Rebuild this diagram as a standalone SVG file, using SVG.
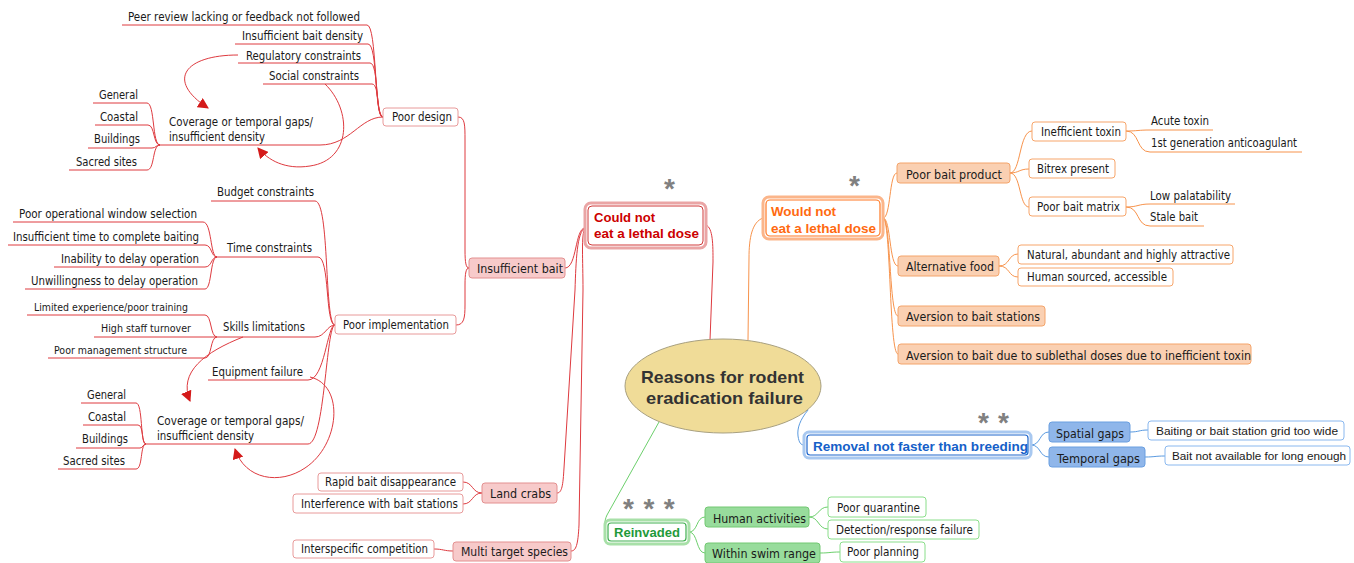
<svg xmlns="http://www.w3.org/2000/svg" width="1354" height="563" viewBox="0 0 1354 563">
<style>
.t{font-family:"DejaVu Sans","Liberation Sans",sans-serif;font-size:12px;fill:#1a1a1a;dominant-baseline:central}
.s{font-size:11px}
.m{font-size:13px}
.la{font-family:"Liberation Sans",Arial,sans-serif;font-size:11.5px}
.b{font-family:"Liberation Sans",Arial,sans-serif;font-weight:bold;font-size:13px}
.ln{fill:none;stroke-width:1}
.r{stroke:#de3a3f}
.o{stroke:#f7934c}
.bl{stroke:#5a9ae0}
.g{stroke:#6ccf6c}
.pw{fill:#fff;stroke:#e89a9a}
.pf{fill:#f7caca;stroke:#e39090}
.ow{fill:#fff;stroke:#f7a56a}
.of{fill:#fad0b2;stroke:#f4a46a}
.bw{fill:#fff;stroke:#8ab8ef}
.bf{fill:#8fb6ea;stroke:#6a9fe0}
.gw{fill:#fff;stroke:#8ade8a}
.gf{fill:#98dc9c;stroke:#72c872}
.star{font-family:"Liberation Sans",Arial,sans-serif;font-size:28px;font-weight:bold;fill:#808080}
</style>
<defs>
<marker id="ah" viewBox="0 0 10 10" refX="9" refY="5" markerWidth="11" markerHeight="11" markerUnits="userSpaceOnUse" orient="auto">
<path d="M0,0 L10,5 L0,10 z" fill="#d41a1a"/>
</marker>
</defs>
<rect width="1354" height="563" fill="#fff"/>

<g id="connectors">
<path class="ln r" d="M122 25 H367 C377 25,374 117,383 117"/>
<path class="ln r" d="M235 44 H368 C378 44,374 117,383 117"/>
<path class="ln r" d="M238 63 H370 C379 63,375 117,383 117"/>
<path class="ln r" d="M263 84 H372 C380 84,376 117,383 117"/>
<path class="ln r" d="M159 145 H320 C350 145,360 117,383 117"/>
<path class="ln r" d="M93 103 H147 C155 103,152 145,160 145"/>
<path class="ln r" d="M95 125 H148 C155 125,153 145,160 145"/>
<path class="ln r" d="M88 148 H152 C156 148,156 145,160 145"/>
<path class="ln r" d="M69 170 H147 C155 170,152 145,160 145"/>
<path class="ln r" d="M211 201 H315 C330 201,324 325,335 325"/>
<path class="ln r" d="M215 257 H318 C330 257,325 325,335 325"/>
<path class="ln r" d="M217 337 H315 C325 337,327 325,335 325"/>
<path class="ln r" d="M208 380 H308 C325 380,327 325,335 325"/>
<path class="ln r" d="M146 444 H308 C325 444,326 325,335 325"/>
<path class="ln r" d="M13 222 H203 C212 222,210 257,217 257"/>
<path class="ln r" d="M8 245 H205 C212 245,211 257,217 257"/>
<path class="ln r" d="M54 267 H205 C212 267,211 257,217 257"/>
<path class="ln r" d="M25 289 H205 C212 289,210 257,217 257"/>
<path class="ln r" d="M27 315 H205 C212 315,210 337,217 337"/>
<path class="ln r" d="M94 337 H217"/>
<path class="ln r" d="M48 358 H205 C212 358,210 337,217 337"/>
<path class="ln r" d="M81 403 H136 C143 403,140 444,146 444"/>
<path class="ln r" d="M83 425 H138 C144 425,141 444,146 444"/>
<path class="ln r" d="M76 448 H140 C143 448,143 444,146 444"/>
<path class="ln r" d="M58 469 H136 C143 469,140 444,146 444"/>
<path class="ln r" d="M238 55 C185 55,165 80,208 108" marker-end="url(#ah)"/>
<path class="ln r" d="M325 84 C352 110,352 160,310 166 C285 170,268 160,258 148" marker-end="url(#ah)"/>
<path class="ln r" d="M243 337 C205 352,178 372,190 401" marker-end="url(#ah)"/>
<path class="ln r" d="M310 377 C345 385,340 445,305 468 C280 485,245 480,235 449" marker-end="url(#ah)"/>
<path class="ln r" d="M458 117 C465 117,465 125,465 140 L465 250 C465 263,466 268,469 268"/>
<path class="ln r" d="M456 325 C464 325,465 318,465 305 L465 285 C465 273,466 268,469 268"/>
<path class="ln r" d="M565 268 C577 268,575 228,585 228"/>
<path class="ln r" d="M585 228 C577 232,576 260,575 290 L564 468 C563 485,562 493,557 493"/>
<path class="ln r" d="M585 228 C581 234,583 260,583 290 L579 525 C578 545,576 551,571 551"/>
<path class="ln r" d="M482 493 C472 493,473 482,463 482"/>
<path class="ln r" d="M482 493 C472 493,473 504,463 504"/>
<path class="ln r" d="M453 551 C444 551,443 549,434 549"/>
<path class="ln r" d="M706 225 C713 228,713 245,713 262 L710 340"/>
<path class="ln o" d="M763 218 C752 222,749 238,749 258 L748 340"/>
<path class="ln o" d="M883 218 C891 218,889 173,897 173"/>
<path class="ln o" d="M883 218 C891 218,889 266,898 266"/>
<path class="ln o" d="M883 218 C891 218,889 316,898 316"/>
<path class="ln o" d="M883 218 C891 218,889 354,898 354"/>
<path class="ln o" d="M1010 173 C1021 173,1019 131,1032 131"/>
<path class="ln o" d="M1010 173 C1019 173,1019 169,1029 169"/>
<path class="ln o" d="M1010 173 C1021 173,1019 207,1029 207"/>
<path class="ln o" d="M1126 131 C1138 131,1138 130,1150 130 H1213"/>
<path class="ln o" d="M1126 131 C1140 131,1136 152,1150 152 H1302"/>
<path class="ln o" d="M1126 207 C1138 207,1138 204,1150 204 H1235"/>
<path class="ln o" d="M1126 207 C1140 207,1136 226,1150 226 H1204"/>
<path class="ln o" d="M999 266 C1010 266,1008 254,1018 254"/>
<path class="ln o" d="M999 266 C1010 266,1008 277,1018 277"/>
<path class="ln bl" d="M808 410 C800 420,797 428,798 436 C799 443,801 445,804 445"/>
<path class="ln bl" d="M1031 445 C1041 445,1039 432,1049 432"/>
<path class="ln bl" d="M1031 445 C1041 445,1039 457,1049 457"/>
<path class="ln bl" d="M1130 432 C1139 432,1139 430,1148 430"/>
<path class="ln bl" d="M1145 457 C1155 457,1155 456,1165 456"/>
<path class="ln g" d="M659 422 L607 515 C604 521,604 530,606 532"/>
<path class="ln g" d="M689 532 C698 532,696 517,705 517"/>
<path class="ln g" d="M689 532 C698 532,696 553,705 553"/>
<path class="ln g" d="M809 517 C819 517,818 507,828 507"/>
<path class="ln g" d="M809 517 C819 517,818 529,828 529"/>
<path class="ln g" d="M820 553 C830 553,830 552,840 552"/>
</g>

<g id="center">
<ellipse cx="723" cy="386" rx="98" ry="47" fill="#f0dc98" stroke="#a8a080"/>
<text class="t b" style="font-size:17px;fill:#333" x="641" y="377" textLength="163" lengthAdjust="spacingAndGlyphs">Reasons for rodent</text>
<text class="t b" style="font-size:17px;fill:#333" x="646" y="398" textLength="157" lengthAdjust="spacingAndGlyphs">eradication failure</text>
</g>

<g id="could-not">
<rect x="585" y="203" width="121" height="45" rx="6" fill="#fff" stroke="#eaa5a5" stroke-width="3"/>
<rect x="588" y="206" width="115" height="39" rx="4" fill="none" stroke="#d03a3a"/>
<text class="t b" style="fill:#cc0000" x="594" y="217" textLength="61" lengthAdjust="spacingAndGlyphs">Could not</text>
<text class="t b" style="fill:#cc0000" x="594" y="233" textLength="105" lengthAdjust="spacingAndGlyphs">eat a lethal dose</text>
<text class="star" x="664" y="198">*</text>
</g>
<g id="insufficient-bait"><rect class="pf" x="469" y="258" width="96" height="20" rx="3"/><text class="t m" x="477" y="268" textLength="86" lengthAdjust="spacingAndGlyphs">Insufficient bait</text></g>
<g id="poor-design"><rect class="pw" x="383" y="108" width="75" height="18" rx="3"/><text class="t" x="392" y="117" textLength="60" lengthAdjust="spacingAndGlyphs">Poor design</text></g>
<g id="peer"><text class="t" x="128" y="17" textLength="232" lengthAdjust="spacingAndGlyphs">Peer review lacking or feedback not followed</text></g>
<g id="bait-density"><text class="t" x="242" y="36" textLength="121" lengthAdjust="spacingAndGlyphs">Insufficient bait density</text></g>
<g id="regulatory"><text class="t" x="246" y="56" textLength="115" lengthAdjust="spacingAndGlyphs">Regulatory constraints</text></g>
<g id="social"><text class="t" x="269" y="76" textLength="90" lengthAdjust="spacingAndGlyphs">Social constraints</text></g>
<g id="coverage1">
<text class="t" x="169" y="122" textLength="144" lengthAdjust="spacingAndGlyphs">Coverage or temporal gaps/</text>
<text class="t" x="169" y="137" textLength="96" lengthAdjust="spacingAndGlyphs">insufficient density</text>
</g>
<g id="general1"><text class="t" x="99" y="95" textLength="39" lengthAdjust="spacingAndGlyphs">General</text></g>
<g id="coastal1"><text class="t" x="100" y="117" textLength="38" lengthAdjust="spacingAndGlyphs">Coastal</text></g>
<g id="buildings1"><text class="t" x="94" y="139" textLength="46" lengthAdjust="spacingAndGlyphs">Buildings</text></g>
<g id="sacred1"><text class="t" x="76" y="162" textLength="61" lengthAdjust="spacingAndGlyphs">Sacred sites</text></g>

<g id="poor-implementation"><rect class="pw" x="335" y="315" width="121" height="19" rx="3"/><text class="t" x="343" y="325" textLength="106" lengthAdjust="spacingAndGlyphs">Poor implementation</text></g>
<g id="budget"><text class="t" x="217" y="192" textLength="97" lengthAdjust="spacingAndGlyphs">Budget constraints</text></g>
<g id="time"><text class="t" x="227" y="248" textLength="85" lengthAdjust="spacingAndGlyphs">Time constraints</text></g>
<g id="window"><text class="t" x="19" y="214" textLength="178" lengthAdjust="spacingAndGlyphs">Poor operational window selection</text></g>
<g id="insuff-time"><text class="t" x="13" y="237" textLength="186" lengthAdjust="spacingAndGlyphs">Insufficient time to complete baiting</text></g>
<g id="inability"><text class="t" x="61" y="259" textLength="138" lengthAdjust="spacingAndGlyphs">Inability to delay operation</text></g>
<g id="unwilling"><text class="t" x="31" y="281" textLength="167" lengthAdjust="spacingAndGlyphs">Unwillingness to delay operation</text></g>
<g id="skills"><text class="t" x="223" y="327" textLength="82" lengthAdjust="spacingAndGlyphs">Skills limitations</text></g>
<g id="limited"><text class="t s" x="34" y="307" textLength="154" lengthAdjust="spacingAndGlyphs">Limited experience/poor training</text></g>
<g id="turnover"><text class="t s" x="101" y="328" textLength="90" lengthAdjust="spacingAndGlyphs">High staff turnover</text></g>
<g id="management"><text class="t s" x="54" y="350" textLength="133" lengthAdjust="spacingAndGlyphs">Poor management structure</text></g>
<g id="equipment"><text class="t" x="212" y="372" textLength="91" lengthAdjust="spacingAndGlyphs">Equipment failure</text></g>
<g id="coverage2">
<text class="t" x="157" y="421" textLength="147" lengthAdjust="spacingAndGlyphs">Coverage or temporal gaps/</text>
<text class="t" x="157" y="436" textLength="97" lengthAdjust="spacingAndGlyphs">insufficient density</text>
</g>
<g id="general2"><text class="t" x="87" y="395" textLength="39" lengthAdjust="spacingAndGlyphs">General</text></g>
<g id="coastal2"><text class="t" x="88" y="417" textLength="38" lengthAdjust="spacingAndGlyphs">Coastal</text></g>
<g id="buildings2"><text class="t" x="82" y="439" textLength="46" lengthAdjust="spacingAndGlyphs">Buildings</text></g>
<g id="sacred2"><text class="t" x="63" y="461" textLength="62" lengthAdjust="spacingAndGlyphs">Sacred sites</text></g>

<g id="land-crabs"><rect class="pf" x="482" y="483" width="75" height="20" rx="3"/><text class="t m" x="490" y="493" textLength="61" lengthAdjust="spacingAndGlyphs">Land crabs</text></g>
<g id="rapid"><rect class="pw" x="318" y="473" width="145" height="18" rx="3"/><text class="t" x="325" y="482" textLength="131" lengthAdjust="spacingAndGlyphs">Rapid bait disappearance</text></g>
<g id="interference"><rect class="pw" x="293" y="494" width="170" height="19" rx="3"/><text class="t" x="301" y="504" textLength="157" lengthAdjust="spacingAndGlyphs">Interference with bait stations</text></g>
<g id="multi"><rect class="pf" x="453" y="542" width="118" height="19" rx="3"/><text class="t m" x="461" y="551" textLength="107" lengthAdjust="spacingAndGlyphs">Multi target species</text></g>
<g id="interspecific"><rect class="pw" x="293" y="540" width="141" height="18" rx="3"/><text class="t" x="301" y="549" textLength="127" lengthAdjust="spacingAndGlyphs">Interspecific competition</text></g>

<g id="would-not">
<rect x="763" y="197" width="120" height="42" rx="6" fill="#fff" stroke="#fbb58a" stroke-width="3"/>
<rect x="766" y="200" width="114" height="36" rx="4" fill="none" stroke="#ff7722" stroke-width="1.2"/>
<text class="t b" style="fill:#ff6a10" x="771" y="211" textLength="65" lengthAdjust="spacingAndGlyphs">Would not</text>
<text class="t b" style="fill:#ff6a10" x="771" y="228" textLength="105" lengthAdjust="spacingAndGlyphs">eat a lethal dose</text>
<text class="star" x="849" y="195">*</text>
</g>
<g id="poor-bait-product"><rect class="of" x="897" y="163" width="113" height="20" rx="3"/><text class="t m" x="906" y="174" textLength="96" lengthAdjust="spacingAndGlyphs">Poor bait product</text></g>
<g id="inefficient-toxin"><rect class="ow" x="1032" y="122" width="94" height="19" rx="3"/><text class="t" x="1041" y="132" textLength="80" lengthAdjust="spacingAndGlyphs">Inefficient toxin</text></g>
<g id="bitrex"><rect class="ow" x="1029" y="159" width="86" height="19" rx="3"/><text class="t" x="1037" y="169" textLength="72" lengthAdjust="spacingAndGlyphs">Bitrex present</text></g>
<g id="bait-matrix"><rect class="ow" x="1029" y="197" width="97" height="19" rx="3"/><text class="t" x="1037" y="207" textLength="83" lengthAdjust="spacingAndGlyphs">Poor bait matrix</text></g>
<g id="acute"><text class="t" x="1151" y="121" textLength="58" lengthAdjust="spacingAndGlyphs">Acute toxin</text></g>
<g id="first-gen"><text class="t" x="1151" y="143" textLength="146" lengthAdjust="spacingAndGlyphs">1st generation anticoagulant</text></g>
<g id="palatability"><text class="t" x="1150" y="196" textLength="81" lengthAdjust="spacingAndGlyphs">Low palatability</text></g>
<g id="stale"><text class="t" x="1150" y="217" textLength="48" lengthAdjust="spacingAndGlyphs">Stale bait</text></g>
<g id="alternative"><rect class="of" x="898" y="256" width="101" height="20" rx="3"/><text class="t m" x="906" y="266" textLength="88" lengthAdjust="spacingAndGlyphs">Alternative food</text></g>
<g id="natural"><rect class="ow" x="1018" y="245" width="215" height="19" rx="3"/><text class="t" x="1027" y="255" textLength="203" lengthAdjust="spacingAndGlyphs">Natural, abundant and highly attractive</text></g>
<g id="human-sourced"><rect class="ow" x="1018" y="268" width="155" height="18" rx="3"/><text class="t" x="1027" y="277" textLength="140" lengthAdjust="spacingAndGlyphs">Human sourced, accessible</text></g>
<g id="aversion-stations"><rect class="of" x="898" y="306" width="147" height="20" rx="3"/><text class="t m" x="906" y="316" textLength="134" lengthAdjust="spacingAndGlyphs">Aversion to bait stations</text></g>
<g id="aversion-sublethal"><rect class="of" x="898" y="344" width="353" height="20" rx="3"/><text class="t m" x="906" y="355" textLength="345" lengthAdjust="spacingAndGlyphs">Aversion to bait due to sublethal doses due to inefficient toxin</text></g>

<g id="removal">
<rect x="804" y="432" width="227" height="26" rx="5" fill="#fff" stroke="#a8c8f0" stroke-width="3"/>
<rect x="807" y="435" width="221" height="20" rx="3" fill="none" stroke="#1f66cc" stroke-width="1.2"/>
<text class="t b" style="fill:#1560c8" x="813" y="446" textLength="215" lengthAdjust="spacingAndGlyphs">Removal not faster than breeding</text>
<text class="star" x="978" y="432" style="letter-spacing:9px">**</text>
</g>
<g id="spatial"><rect class="bf" x="1049" y="422" width="81" height="20" rx="3"/><text class="t m" x="1056" y="433" textLength="68" lengthAdjust="spacingAndGlyphs">Spatial gaps</text></g>
<g id="temporal"><rect class="bf" x="1049" y="447" width="96" height="20" rx="3"/><text class="t m" x="1057" y="458" textLength="83" lengthAdjust="spacingAndGlyphs">Temporal gaps</text></g>
<g id="grid"><rect class="bw" x="1148" y="421" width="196" height="19" rx="3"/><text class="t la" x="1156" y="431" textLength="182" lengthAdjust="spacingAndGlyphs">Baiting or bait station grid too wide</text></g>
<g id="not-available"><rect class="bw" x="1165" y="446" width="185" height="19" rx="3"/><text class="t la" x="1172" y="456" textLength="174" lengthAdjust="spacingAndGlyphs">Bait not available for long enough</text></g>

<g id="reinvaded">
<rect x="605" y="520" width="84" height="24" rx="5" fill="#fff" stroke="#a8e0a8" stroke-width="3"/>
<rect x="608" y="523" width="78" height="18" rx="3" fill="none" stroke="#40b050" stroke-width="1.2"/>
<text class="t b" style="fill:#1f9a3a" x="614" y="532" textLength="66" lengthAdjust="spacingAndGlyphs">Reinvaded</text>
<text class="star" x="623" y="518" style="letter-spacing:9.5px">***</text>
</g>
<g id="human-activities"><rect class="gf" x="705" y="507" width="104" height="20" rx="3"/><text class="t m" x="713" y="518" textLength="93" lengthAdjust="spacingAndGlyphs">Human activities</text></g>
<g id="swim"><rect class="gf" x="705" y="543" width="115" height="20" rx="3"/><text class="t m" x="712" y="553" textLength="104" lengthAdjust="spacingAndGlyphs">Within swim range</text></g>
<g id="quarantine"><rect class="gw" x="828" y="497" width="98" height="20" rx="3"/><text class="t" x="837" y="508" textLength="83" lengthAdjust="spacingAndGlyphs">Poor quarantine</text></g>
<g id="detection"><rect class="gw" x="828" y="520" width="151" height="19" rx="3"/><text class="t" x="836" y="530" textLength="137" lengthAdjust="spacingAndGlyphs">Detection/response failure</text></g>
<g id="planning"><rect class="gw" x="840" y="542" width="85" height="20" rx="3"/><text class="t" x="847" y="552" textLength="72" lengthAdjust="spacingAndGlyphs">Poor planning</text></g>
</svg>
